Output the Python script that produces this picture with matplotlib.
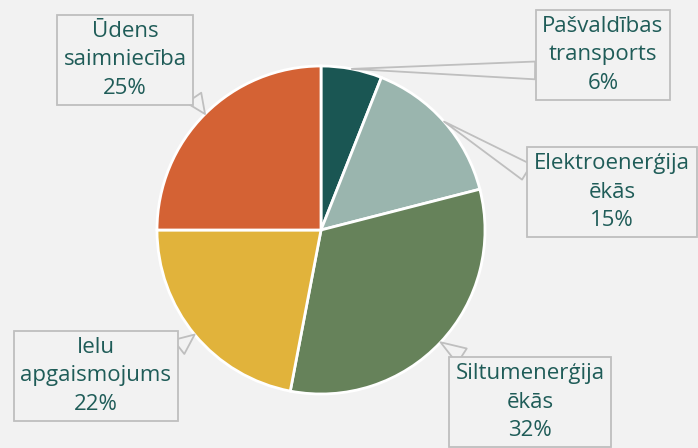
import numpy as np
import matplotlib.pyplot as plt

# slice data, clockwise from 12 o'clock
labels = ['Pašvaldības\ntransports', 'Elektroenerģija\nēkās', 'Siltumenerģija\nēkās',
          'Ielu\napgaismojums', 'Ūdens\nsaimniecība']
shares = [6, 15, 32, 22, 25]
colors = ['#1a5653', '#9ab5ae', '#66825a', '#e1b33b', '#d46234']

# where each callout box sits (figure pixels from top-left) and where its wedge leaves the box
box_px = [(603, 55), (612, 192), (530, 402), (96, 376), (125, 60)]
wedge_from = [(0, 0.3), (0, 0.7), (0.12, 1), (1, 0.8), (1, 0.15)]

BG = '#f2f2f2'
TXT = '#1f5c58'
W, H = 698, 448
CX, CY, R = 321, 230, 164

plt.rcParams['font.family'] = ['Open Sans', 'DejaVu Sans']

fig = plt.figure(figsize=(W / 100, H / 100), dpi=100, facecolor=BG)
ax = fig.add_axes([0, 0, 1, 1])
ax.set_facecolor(BG)

wedges, _ = ax.pie(shares, colors=colors, startangle=90, counterclock=False,
                   radius=1, wedgeprops=dict(edgecolor='white', linewidth=2))
ax.set_aspect('auto')
ax.set_xlim(-CX / R, (W - CX) / R)
ax.set_ylim(-(H - CY) / R, CY / R)
ax.axis('off')

for w, lab, val, (bx, by), rp in zip(wedges, labels, shares, box_px, wedge_from):
    ang = np.deg2rad((w.theta1 + w.theta2) / 2)
    tip = (np.cos(ang), np.sin(ang))
    tx, ty = (bx - CX) / R, (CY - by) / R
    ax.annotate(f'{lab}\n{val}%', xy=tip, xytext=(tx, ty),
                ha='center', va='center', fontsize=16, color=TXT, linespacing=1.45,
                bbox=dict(boxstyle='square,pad=0.3', fc=BG, ec='#bfbfbf', lw=1.3),
                arrowprops=dict(arrowstyle='wedge,tail_width=0.8', fc=BG, ec='#bfbfbf',
                                lw=1.3, shrinkA=0, shrinkB=0, relpos=rp))

# title sits mostly above the visible area, only descenders peek in
fig.text(0.434, 1 + 1 / H, 'Enerģijas patēriņš\n2023. gadā, %', ha='center', va='bottom',
         fontsize=20, color=TXT, linespacing=1.2)

fig.savefig('out.png', dpi=100, facecolor=BG)
